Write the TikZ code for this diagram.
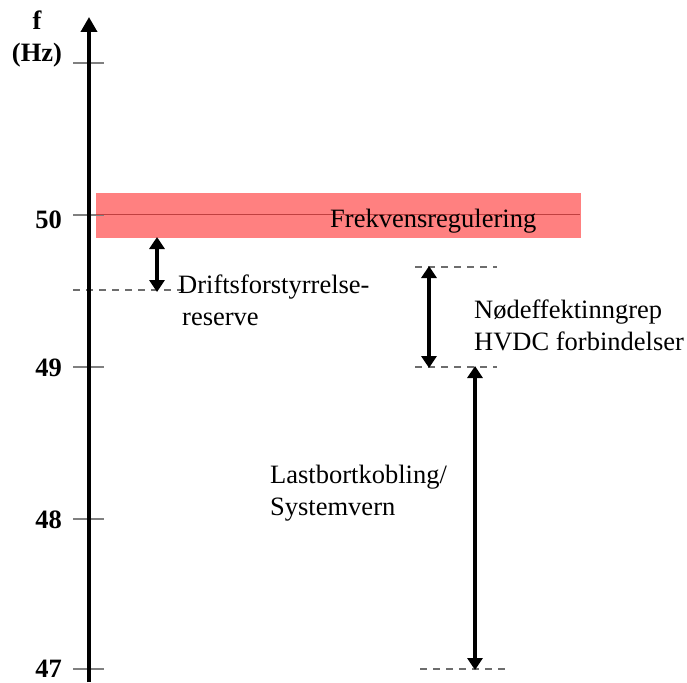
\documentclass[tikz,border=0pt]{standalone}
\usepackage{fontspec}
\setmainfont{Liberation Serif}
\usetikzlibrary{arrows.meta}
\definecolor{bandred}{RGB}{255,128,128}
\definecolor{bandline}{RGB}{192,64,64}
\definecolor{tickgray}{RGB}{128,128,128}
\tikzset{
  lbl/.style={font=\fontsize{26.5}{32}\selectfont, inner sep=0pt, align=left},
  numlbl/.style={font=\fontsize{26.5}{32}\selectfont\bfseries, inner sep=0pt},
  tickline/.style={draw=tickgray, line width=1.4pt},
  dashline/.style={draw=tickgray!85!black, line width=1.3pt, dash pattern=on 6.5pt off 6.5pt},
  axisline/.style={line width=3.6pt, -{Triangle[length=15pt,width=16pt]}},
  rangearrow/.style={line width=3.6pt, {Triangle[length=12pt,width=15pt]}-{Triangle[length=12pt,width=15pt]}, shorten <=-1pt, shorten >=-1pt}
}
\begin{document}
\begin{tikzpicture}[x=1pt, y=-1pt]
  \path[use as bounding box] (0,0) rectangle (687,682);

  % frequency control band around 50 Hz
  \fill[bandred] (96,193) rectangle (581,238);

  % axis ticks
  \draw[tickline] (73,63) -- (104,63);
  \draw[tickline] (73,215) -- (104,215);
  \draw[bandline, line width=1.4pt] (96,214.5) -- (580,214.5);
  \draw[tickline] (73,367) -- (104,367);
  \draw[tickline] (73,519) -- (104,519);
  \draw[tickline] (73,669) -- (104,669);

  % dashed limit lines
  \draw[dashline] (73,290) -- (190,290);
  \draw[dashline] (415,267) -- (497,267);
  \draw[dashline] (415,367) -- (497,367);
  \draw[dashline] (420,669) -- (505,669);

  % vertical frequency axis
  \coordinate (axbot) at (89,682);
  \coordinate (axtop) at (89,17);
  \draw[axisline] (axbot) -- (axtop);

  % axis labels (base anchor of a two-line node sits on its last line)
  \node[numlbl, anchor=base, align=center] (unit) at (37,62) {f\\(Hz)};
  \node[numlbl, anchor=base east] (l50) at (62,228) {50};
  \node[numlbl, anchor=base east] (l49) at (62,376) {49};
  \node[numlbl, anchor=base east] (l48) at (62,528) {48};
  \node[numlbl, anchor=base east] (l47) at (62,677) {47};

  % ranges
  \coordinate (r1a) at (157,238);
  \coordinate (r1b) at (157,291);
  \draw[rangearrow] (r1a) -- (r1b);

  \coordinate (r2a) at (429,267);
  \coordinate (r2b) at (429,367);
  \draw[rangearrow] (r2a) -- (r2b);

  \coordinate (r3a) at (475,367);
  \coordinate (r3b) at (475,669);
  \draw[rangearrow] (r3a) -- (r3b);

  % range labels
  \node[lbl, anchor=base west] (frek) at (330,227) {Frekvensregulering};
  \node[lbl, anchor=base west] (drift) at (178,325) {Driftsforstyrrelse-\\\hspace*{4pt}reserve};
  \node[lbl, anchor=base west] (nod) at (474,350) {Nødeffektinngrep\\HVDC forbindelser};
  \node[lbl, anchor=base west] (last) at (270,515) {Lastbortkobling/\\Systemvern};
\end{tikzpicture}
\end{document}
